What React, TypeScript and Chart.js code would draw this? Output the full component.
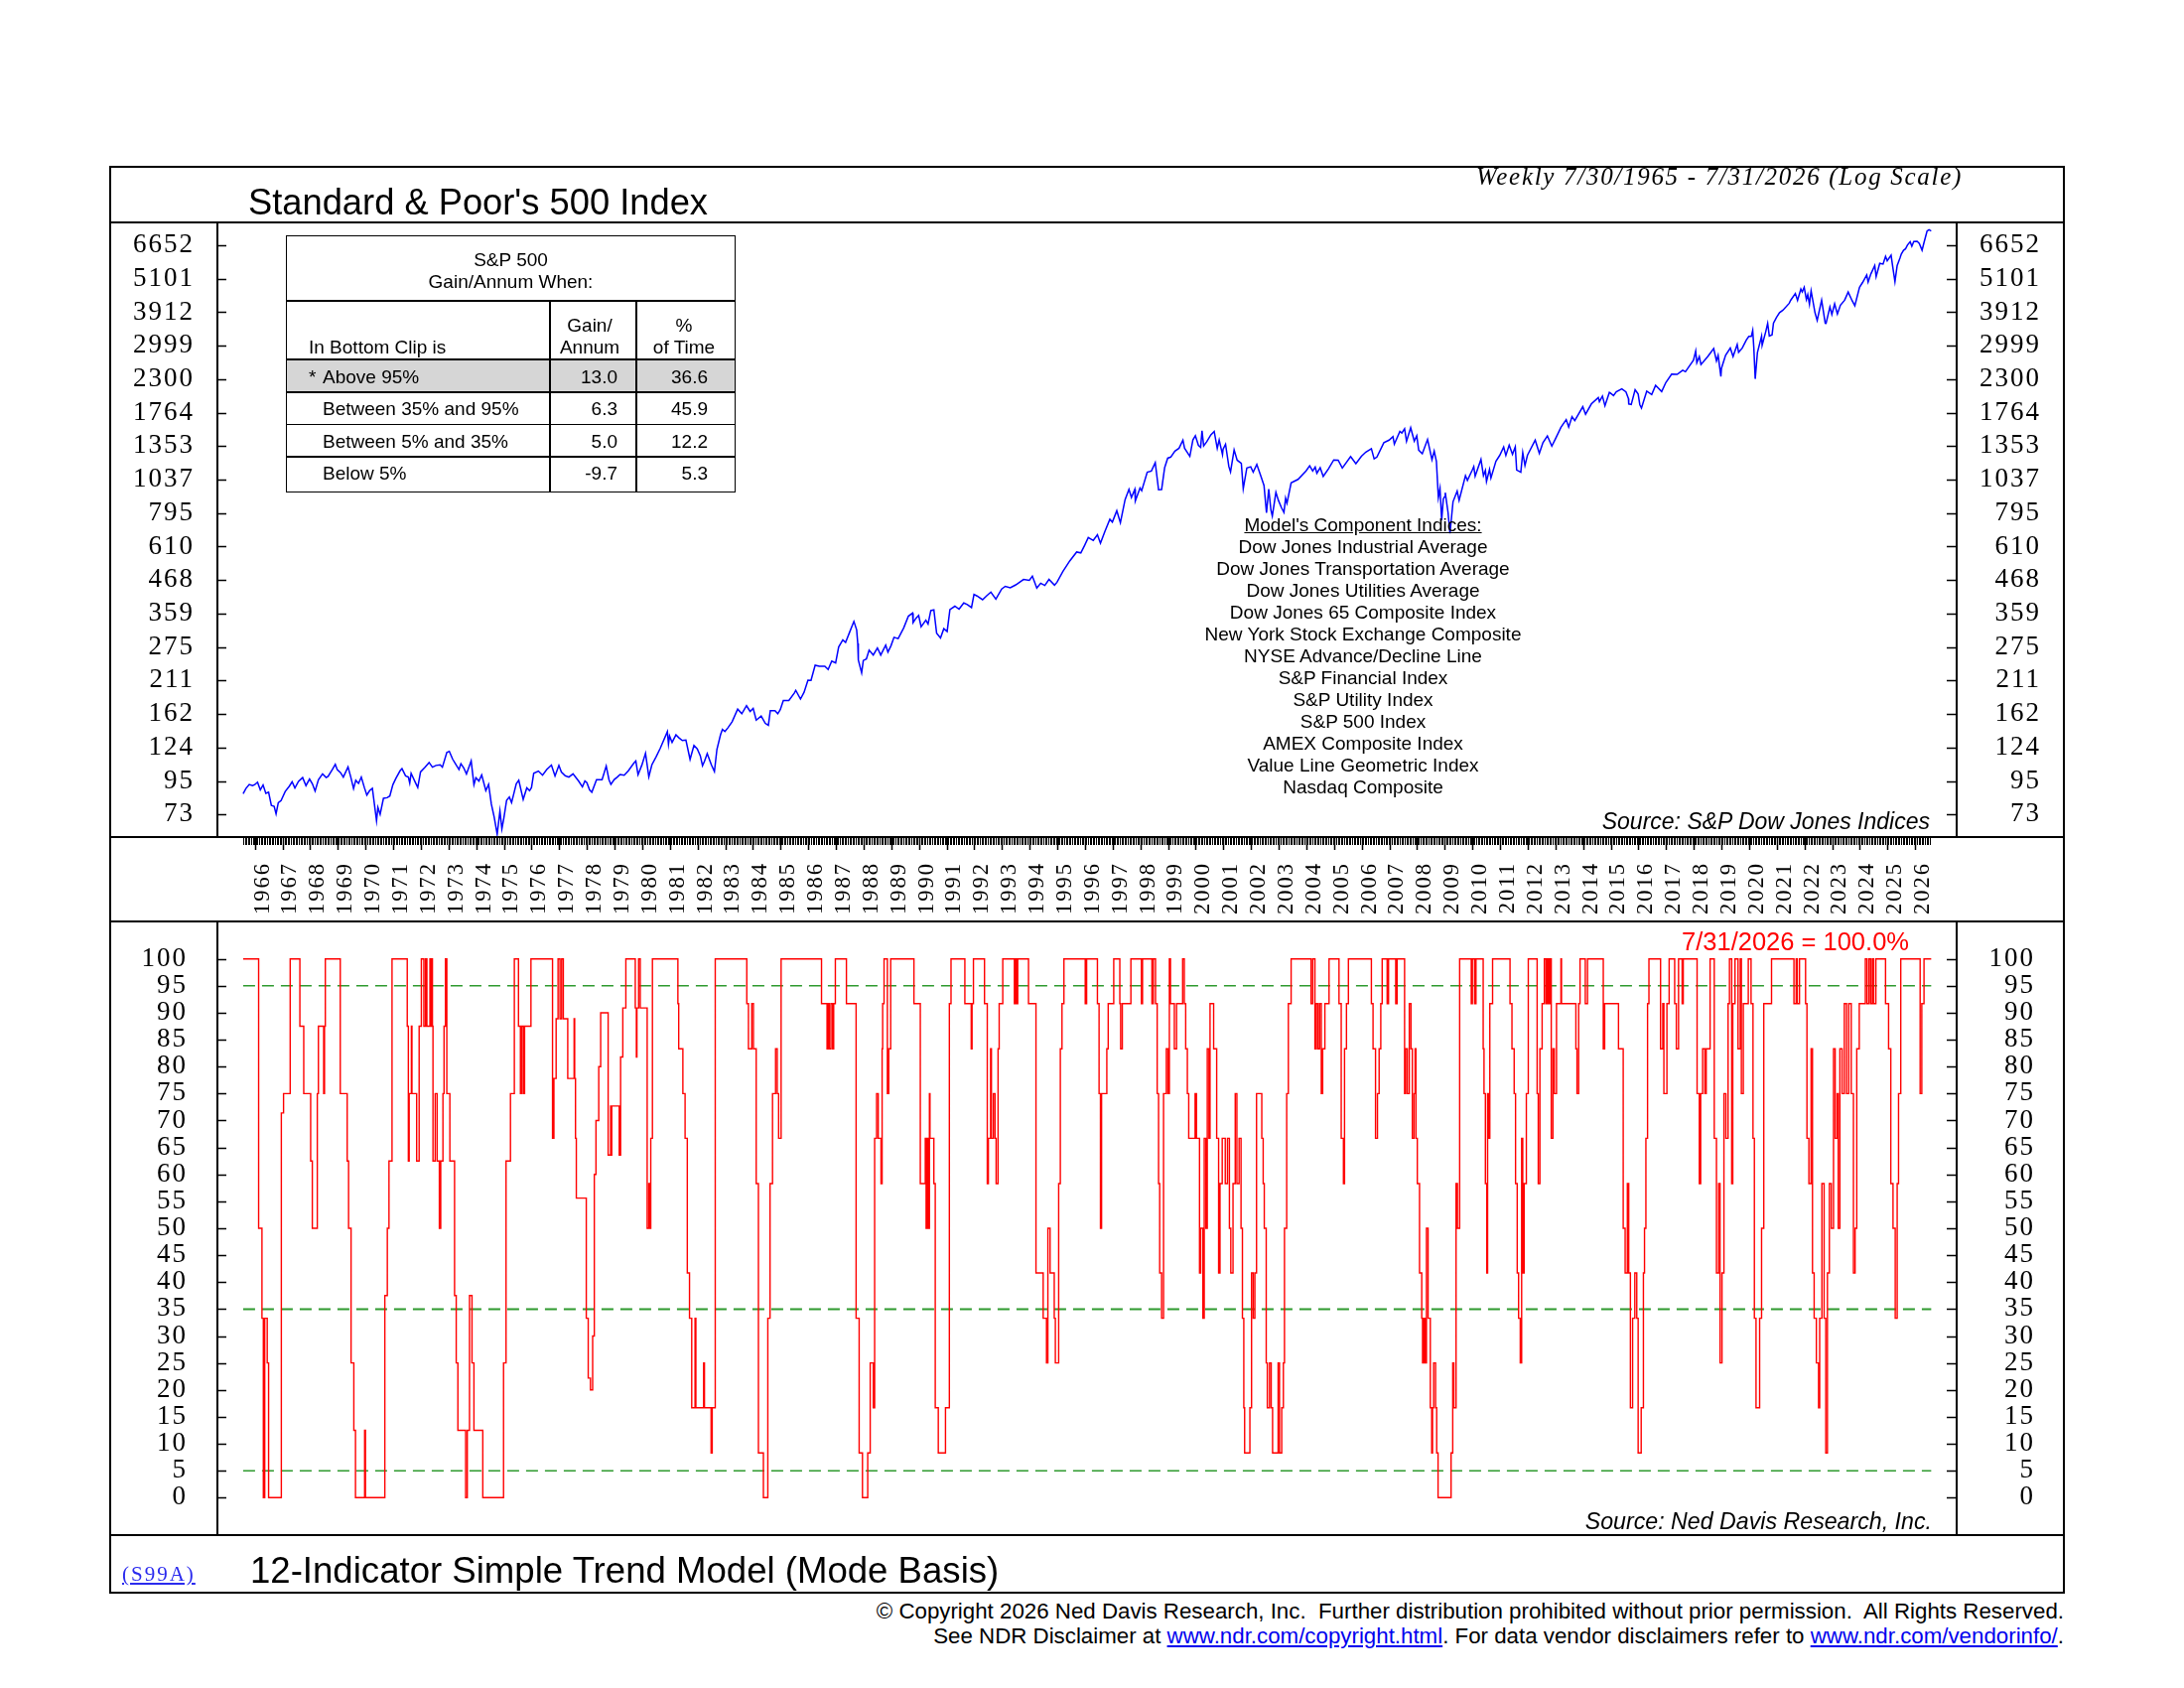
import React, { useEffect, useRef } from 'react';
import { Chart, registerables } from 'chart.js';

Chart.register(...registerables);

// S&P 500 weekly close: [decimal year, index level]
const spxPoints: [number, number][] = [
  [1965.58, 85.9], [1965.68, 89.5], [1965.8, 92.4], [1965.92, 91.6], [1966.0, 92.3],
  [1966.1, 94.1], [1966.2, 88.5], [1966.3, 92.0], [1966.4, 86.1], [1966.5, 87.0], [1966.6, 78.2], [1966.7, 77.7], [1966.77, 73.2], [1966.85, 80.0], [1966.95, 81.3],
  [1967.1, 87.4], [1967.25, 91.2], [1967.35, 94.4], [1967.45, 89.9], [1967.58, 94.7], [1967.73, 97.6], [1967.85, 91.6], [1967.98, 96.5],
  [1968.08, 93.0], [1968.18, 87.7], [1968.3, 96.0], [1968.45, 100.5], [1968.58, 97.7], [1968.65, 98.5], [1968.8, 103.9], [1968.91, 108.4], [1968.98, 103.9],
  [1969.1, 101.5], [1969.2, 98.0], [1969.37, 106.2], [1969.47, 98.0], [1969.57, 89.5], [1969.65, 95.5], [1969.75, 93.2], [1969.85, 98.0], [1969.96, 90.2],
  [1970.05, 85.0], [1970.15, 88.0], [1970.25, 89.6], [1970.4, 69.3], [1970.45, 77.0], [1970.53, 72.9], [1970.65, 82.8], [1970.78, 83.2], [1970.88, 84.3], [1970.99, 92.2],
  [1971.1, 97.0], [1971.25, 103.0], [1971.32, 104.8], [1971.45, 99.0], [1971.55, 98.0], [1971.6, 93.5], [1971.65, 101.0], [1971.8, 94.0], [1971.89, 90.2], [1971.99, 102.1],
  [1972.15, 106.0], [1972.3, 110.0], [1972.42, 106.0], [1972.55, 107.5], [1972.7, 108.0], [1972.78, 106.0], [1972.94, 119.1], [1973.03, 120.2],
  [1973.15, 113.0], [1973.25, 109.0], [1973.38, 104.0], [1973.45, 109.0], [1973.55, 105.5], [1973.65, 100.5], [1973.82, 111.4], [1973.92, 92.2], [1973.99, 97.5],
  [1974.1, 95.0], [1974.2, 99.7], [1974.35, 88.0], [1974.45, 92.5], [1974.55, 79.0], [1974.65, 71.5], [1974.76, 62.3], [1974.86, 75.0], [1974.93, 65.0], [1975.0, 70.7],
  [1975.1, 81.5], [1975.2, 83.6], [1975.28, 80.0], [1975.45, 93.0], [1975.54, 95.6], [1975.7, 82.1], [1975.83, 90.0], [1975.93, 88.0], [1976.0, 90.2],
  [1976.08, 101.0], [1976.25, 102.8], [1976.4, 99.5], [1976.55, 104.0], [1976.72, 107.8], [1976.85, 98.8], [1976.99, 107.5],
  [1977.08, 102.0], [1977.22, 99.0], [1977.35, 98.0], [1977.5, 100.5], [1977.7, 95.0], [1977.84, 90.7], [1977.93, 95.0], [1978.0, 93.8],
  [1978.1, 88.5], [1978.18, 86.9], [1978.35, 96.0], [1978.55, 96.0], [1978.7, 107.0], [1978.8, 96.0], [1978.87, 92.5], [1978.99, 96.1],
  [1979.1, 98.0], [1979.2, 100.0], [1979.35, 99.5], [1979.5, 103.0], [1979.7, 109.5], [1979.77, 111.3], [1979.85, 99.9], [1979.99, 107.9],
  [1980.12, 118.4], [1980.24, 98.2], [1980.35, 108.0], [1980.5, 115.0], [1980.65, 123.0], [1980.91, 140.5], [1980.95, 127.4], [1980.99, 135.8],
  [1981.08, 129.0], [1981.22, 137.0], [1981.32, 134.0], [1981.45, 131.0], [1981.58, 131.5], [1981.73, 112.8], [1981.87, 126.0], [1981.99, 122.5],
  [1982.1, 116.0], [1982.18, 107.3], [1982.25, 111.0], [1982.35, 118.0], [1982.5, 108.0], [1982.61, 102.4], [1982.7, 122.0], [1982.83, 137.0], [1982.9, 143.0], [1982.99, 140.6],
  [1983.1, 145.0], [1983.25, 152.0], [1983.45, 168.0], [1983.6, 162.0], [1983.77, 172.6], [1983.9, 165.0], [1984.01, 169.0],
  [1984.12, 154.0], [1984.3, 159.0], [1984.45, 150.0], [1984.56, 147.8], [1984.63, 166.0], [1984.8, 166.0], [1984.9, 162.0], [1984.99, 167.2],
  [1985.1, 180.0], [1985.3, 180.0], [1985.5, 191.0], [1985.55, 195.0], [1985.72, 182.0], [1985.85, 192.0], [1985.99, 211.3],
  [1986.1, 211.0], [1986.25, 238.0], [1986.4, 236.0], [1986.55, 236.0], [1986.6, 236.0], [1986.72, 230.0], [1986.85, 246.0], [1986.99, 242.2],
  [1987.1, 275.0], [1987.25, 291.0], [1987.35, 285.0], [1987.5, 310.0], [1987.65, 336.8], [1987.75, 315.0], [1987.79, 282.7], [1987.81, 248.0], [1987.93, 223.9], [1987.99, 247.1],
  [1988.1, 250.0], [1988.2, 268.0], [1988.35, 258.0], [1988.5, 273.0], [1988.62, 258.0], [1988.8, 279.0], [1988.88, 264.0], [1988.99, 277.7],
  [1989.1, 297.0], [1989.25, 294.0], [1989.45, 320.0], [1989.62, 351.0], [1989.77, 359.8], [1989.79, 333.6], [1989.9, 346.0], [1989.99, 353.4],
  [1990.08, 322.9], [1990.25, 340.0], [1990.33, 330.0], [1990.43, 367.0], [1990.54, 368.9], [1990.64, 307.0], [1990.78, 295.5], [1990.9, 318.0], [1991.02, 311.0],
  [1991.12, 370.0], [1991.3, 380.0], [1991.45, 371.0], [1991.62, 390.0], [1991.75, 385.0], [1991.9, 376.0], [1991.99, 417.1],
  [1992.1, 412.0], [1992.3, 400.0], [1992.45, 413.0], [1992.6, 425.0], [1992.78, 402.0], [1992.99, 435.7],
  [1993.12, 445.0], [1993.3, 440.0], [1993.5, 450.0], [1993.78, 470.0], [1993.99, 466.5],
  [1994.1, 482.0], [1994.26, 438.9], [1994.4, 456.0], [1994.55, 448.0], [1994.7, 470.0], [1994.9, 449.0], [1994.99, 459.3],
  [1995.2, 500.0], [1995.45, 544.0], [1995.7, 584.0], [1995.85, 580.0], [1995.99, 615.9],
  [1996.12, 655.0], [1996.3, 640.0], [1996.45, 670.0], [1996.56, 626.0], [1996.72, 687.0], [1996.9, 757.0], [1996.99, 740.7],
  [1997.15, 810.0], [1997.28, 737.0], [1997.45, 885.0], [1997.59, 960.0], [1997.68, 900.0], [1997.8, 960.0], [1997.82, 876.0], [1997.99, 970.4],
  [1998.05, 950.0], [1998.25, 1100.0], [1998.4, 1110.0], [1998.54, 1186.0], [1998.66, 957.0], [1998.77, 959.0], [1998.88, 1140.0], [1998.99, 1229.2],
  [1999.1, 1240.0], [1999.25, 1300.0], [1999.4, 1330.0], [1999.54, 1418.0], [1999.6, 1330.0], [1999.79, 1247.0], [1999.9, 1420.0], [1999.99, 1469.3],
  [2000.1, 1360.0], [2000.18, 1340.0], [2000.23, 1527.0], [2000.29, 1356.0], [2000.4, 1400.0], [2000.55, 1480.0], [2000.67, 1520.0], [2000.78, 1329.0], [2000.85, 1420.0], [2000.97, 1264.0], [2000.99, 1320.3],
  [2001.08, 1373.0], [2001.2, 1150.0], [2001.26, 1103.0], [2001.39, 1312.0], [2001.5, 1210.0], [2001.65, 1180.0], [2001.72, 965.0], [2001.85, 1138.0], [2001.99, 1148.1],
  [2002.08, 1100.0], [2002.21, 1170.0], [2002.35, 1070.0], [2002.47, 990.0], [2002.56, 797.0], [2002.64, 962.0], [2002.72, 815.0], [2002.77, 776.8], [2002.9, 938.0], [2002.99, 879.8],
  [2003.1, 830.0], [2003.19, 800.0], [2003.25, 895.0], [2003.3, 860.0], [2003.45, 1011.0], [2003.7, 1039.0], [2003.99, 1111.9],
  [2004.12, 1157.0], [2004.23, 1110.0], [2004.32, 1145.0], [2004.38, 1090.0], [2004.5, 1140.0], [2004.61, 1064.0], [2004.8, 1130.0], [2004.99, 1211.9],
  [2005.15, 1210.0], [2005.3, 1137.0], [2005.6, 1245.0], [2005.79, 1177.0], [2005.99, 1248.3],
  [2006.15, 1290.0], [2006.35, 1326.0], [2006.45, 1223.0], [2006.55, 1240.0], [2006.8, 1390.0], [2006.99, 1418.3],
  [2007.13, 1459.0], [2007.18, 1374.0], [2007.38, 1520.0], [2007.45, 1500.0], [2007.55, 1553.0], [2007.62, 1406.0], [2007.77, 1565.0], [2007.9, 1407.0], [2007.99, 1468.4],
  [2008.06, 1310.0], [2008.19, 1273.0], [2008.38, 1426.0], [2008.54, 1214.0], [2008.62, 1300.0], [2008.7, 1200.0], [2008.77, 899.0], [2008.83, 968.0], [2008.89, 752.0], [2008.95, 890.0], [2008.99, 903.3],
  [2009.02, 935.0], [2009.12, 800.0], [2009.19, 676.5], [2009.3, 870.0], [2009.45, 946.0], [2009.52, 880.0], [2009.75, 1070.0], [2009.82, 1030.0], [2009.99, 1115.1],
  [2010.05, 1150.0], [2010.1, 1066.0], [2010.31, 1217.0], [2010.4, 1070.0], [2010.47, 1115.0], [2010.51, 1022.0], [2010.62, 1125.0], [2010.67, 1050.0], [2010.85, 1200.0], [2010.99, 1257.6],
  [2011.13, 1343.0], [2011.21, 1256.0], [2011.33, 1363.0], [2011.45, 1268.0], [2011.55, 1345.0], [2011.6, 1119.0], [2011.75, 1099.0], [2011.82, 1285.0], [2011.9, 1159.0], [2011.99, 1257.6],
  [2012.27, 1419.0], [2012.42, 1278.0], [2012.55, 1390.0], [2012.71, 1466.0], [2012.87, 1353.0], [2012.99, 1426.2],
  [2013.2, 1569.0], [2013.39, 1669.0], [2013.48, 1573.0], [2013.6, 1709.0], [2013.7, 1655.0], [2013.99, 1848.4],
  [2014.09, 1741.0], [2014.3, 1890.0], [2014.55, 1988.0], [2014.59, 1925.0], [2014.7, 2011.0], [2014.79, 1862.0], [2014.95, 2070.0], [2014.99, 2058.9],
  [2015.1, 2020.0], [2015.2, 2080.0], [2015.4, 2130.0], [2015.55, 2080.0], [2015.64, 1971.0], [2015.65, 1890.0], [2015.74, 1881.0], [2015.88, 2116.0], [2015.99, 2043.9],
  [2016.05, 1880.0], [2016.11, 1829.0], [2016.3, 2091.0], [2016.48, 2037.0], [2016.62, 2190.0], [2016.84, 2085.0], [2016.99, 2238.8],
  [2017.2, 2395.0], [2017.4, 2390.0], [2017.6, 2470.0], [2017.7, 2440.0], [2017.99, 2673.6],
  [2018.07, 2873.0], [2018.11, 2620.0], [2018.2, 2750.0], [2018.26, 2582.0], [2018.5, 2750.0], [2018.72, 2931.0], [2018.82, 2658.0], [2018.88, 2780.0], [2018.98, 2351.0], [2019.0, 2507.0],
  [2019.15, 2780.0], [2019.32, 2945.0], [2019.42, 2752.0], [2019.57, 3026.0], [2019.62, 2847.0], [2019.75, 2940.0], [2019.9, 3140.0], [2019.99, 3230.8],
  [2020.08, 3230.0], [2020.13, 3386.0], [2020.17, 2954.0], [2020.22, 2305.0], [2020.3, 2840.0], [2020.45, 3232.0], [2020.47, 3009.0], [2020.6, 3351.0], [2020.67, 3580.0], [2020.73, 3237.0], [2020.83, 3270.0], [2020.88, 3585.0], [2020.99, 3756.1],
  [2021.1, 3900.0], [2021.22, 3974.0], [2021.45, 4200.0], [2021.5, 4298.0], [2021.67, 4537.0], [2021.75, 4300.0], [2021.87, 4700.0], [2021.92, 4594.0], [2021.99, 4766.2],
  [2022.07, 4326.0], [2022.12, 4500.0], [2022.18, 4170.0], [2022.24, 4631.0], [2022.38, 3901.0], [2022.46, 3667.0], [2022.62, 4305.0], [2022.75, 3586.0], [2022.78, 3583.0], [2022.92, 4080.0], [2022.99, 3839.5],
  [2023.09, 4179.0], [2023.19, 3855.0], [2023.3, 4137.0], [2023.45, 4300.0], [2023.58, 4589.0], [2023.72, 4290.0], [2023.82, 4117.0], [2023.99, 4769.8],
  [2024.1, 4950.0], [2024.25, 5254.0], [2024.3, 4967.0], [2024.4, 5300.0], [2024.54, 5667.0], [2024.59, 5186.0], [2024.72, 5762.0], [2024.84, 5728.0], [2024.93, 6090.0], [2024.99, 5881.6],
  [2025.13, 6144.0], [2025.2, 5521.0], [2025.27, 4982.0], [2025.35, 5660.0], [2025.45, 6000.0], [2025.5, 6205.0], [2025.58, 6389.0], [2025.65, 6460.0], [2025.72, 6660.0], [2025.82, 6840.0],
  [2025.88, 6600.0], [2025.95, 6850.0], [2026.07, 6865.0], [2026.15, 6750.0], [2026.25, 6394.0], [2026.32, 6800.0], [2026.43, 7442.0], [2026.5, 7522.0], [2026.58, 7450.0],
];

// 12-Indicator Simple Trend Model (%), each point is a new reading: [decimal year, percent]
const trendPoints: [number, number][] = [
  [1965.58, 100],
  [1966.14, 50], [1966.26, 33.3], [1966.31, 0], [1966.36, 33.3], [1966.45, 25], [1966.5, 0], [1966.96, 71.4], [1967.04, 75], [1967.28, 100], [1967.63, 87.5], [1967.77, 75],
  [1968.02, 62.5], [1968.08, 50], [1968.26, 75], [1968.3, 87.5], [1968.49, 75], [1968.52, 87.5], [1968.55, 100],
  [1969.09, 75], [1969.34, 62.5], [1969.39, 50], [1969.48, 25], [1969.58, 12.5], [1969.64, 0], [1969.97, 12.5], [1970.0, 0],
  [1970.7, 37.5], [1970.79, 50], [1970.85, 62.5], [1970.96, 100],
  [1971.51, 87.5], [1971.55, 62.5], [1971.58, 75], [1971.66, 87.5], [1971.68, 75], [1971.85, 62.5], [1971.94, 87.5],
  [1972.02, 100], [1972.11, 87.5], [1972.17, 100], [1972.22, 87.5], [1972.33, 100], [1972.36, 87.5], [1972.39, 100], [1972.42, 87.5], [1972.44, 62.5], [1972.52, 75], [1972.59, 62.5], [1972.67, 50], [1972.72, 62.5], [1972.8, 75], [1972.84, 87.5], [1972.89, 100], [1972.94, 75],
  [1973.05, 62.5], [1973.22, 37.5], [1973.28, 25], [1973.34, 12.5], [1973.62, 0], [1973.68, 12.5], [1973.76, 37.5], [1973.85, 25], [1973.92, 12.5],
  [1974.24, 0], [1974.99, 25], [1975.08, 62.5], [1975.24, 75], [1975.38, 100], [1975.53, 87.5], [1975.6, 75], [1975.64, 87.5], [1975.7, 75], [1975.75, 87.5], [1975.98, 100],
  [1976.76, 66.7], [1976.81, 77.8], [1976.89, 88.9], [1976.96, 100], [1977.03, 88.9], [1977.09, 100], [1977.15, 88.9], [1977.31, 77.8], [1977.54, 88.9], [1977.56, 77.8], [1977.59, 66.7], [1977.62, 55.6], [1977.98, 33.3],
  [1978.05, 22.2], [1978.13, 20], [1978.21, 30], [1978.27, 60], [1978.33, 70], [1978.43, 80], [1978.5, 90], [1978.77, 63.6], [1978.86, 72.7], [1978.88, 63.6], [1978.9, 72.7],
  [1979.17, 63.6], [1979.22, 81.8], [1979.3, 90.9], [1979.41, 100], [1979.75, 90.9], [1979.79, 81.8], [1979.81, 90.9], [1979.87, 100], [1979.93, 90.9],
  [1980.18, 50], [1980.24, 58.3], [1980.26, 50], [1980.31, 66.7], [1980.37, 100],
  [1981.29, 91.7], [1981.32, 83.3], [1981.47, 75], [1981.55, 66.7], [1981.63, 41.7], [1981.71, 33.3], [1981.79, 16.7], [1981.91, 33.3], [1981.94, 16.7],
  [1982.22, 25], [1982.25, 16.7], [1982.49, 8.3], [1982.53, 16.7], [1982.64, 100],
  [1983.78, 91.7], [1983.84, 83.3], [1983.96, 91.7], [1984.02, 83.3], [1984.12, 58.3], [1984.2, 8.3], [1984.38, 0], [1984.54, 33.3], [1984.62, 58.3], [1984.71, 75], [1984.82, 83.3], [1984.88, 75], [1984.93, 66.7],
  [1985.02, 100], [1986.48, 91.7], [1986.68, 83.3], [1986.72, 91.7], [1986.76, 83.3], [1986.82, 91.7], [1986.88, 83.3], [1986.92, 91.7], [1986.98, 100],
  [1987.38, 91.7], [1987.73, 33.3], [1987.84, 8.3], [1987.96, 0], [1988.15, 8.3], [1988.24, 25], [1988.35, 16.7], [1988.4, 66.7], [1988.47, 75], [1988.53, 66.7], [1988.63, 58.3], [1988.67, 83.3], [1988.69, 91.7], [1988.74, 100], [1988.86, 75], [1988.91, 83.3], [1988.98, 100],
  [1989.82, 91.7], [1990.05, 58.3], [1990.23, 66.7], [1990.26, 50], [1990.3, 66.7], [1990.34, 50], [1990.38, 75], [1990.4, 66.7], [1990.54, 58.3], [1990.59, 16.7], [1990.7, 8.3], [1990.96, 16.7],
  [1991.1, 91.7], [1991.16, 100], [1991.66, 91.7], [1991.89, 83.3], [1991.92, 91.7], [1991.97, 100],
  [1992.37, 91.7], [1992.47, 58.3], [1992.51, 66.7], [1992.59, 83.3], [1992.62, 66.7], [1992.69, 75], [1992.75, 66.7], [1992.79, 58.3], [1992.86, 83.3], [1992.9, 91.7],
  [1993.03, 100], [1993.45, 91.7], [1993.49, 100], [1993.54, 91.7], [1993.57, 100], [1993.96, 91.7],
  [1994.23, 41.7], [1994.49, 33.3], [1994.61, 25], [1994.66, 50], [1994.74, 41.7], [1994.89, 33.3], [1994.93, 25],
  [1995.05, 58.3], [1995.11, 83.3], [1995.17, 91.7], [1995.24, 100],
  [1996.01, 91.7], [1996.06, 100], [1996.45, 91.7], [1996.51, 75], [1996.56, 50], [1996.6, 75], [1996.79, 83.3], [1996.84, 91.7],
  [1997.04, 100], [1997.26, 91.7], [1997.29, 83.3], [1997.35, 91.7], [1997.66, 100],
  [1998.04, 91.7], [1998.08, 100], [1998.42, 91.7], [1998.47, 100], [1998.55, 91.7], [1998.61, 75], [1998.66, 58.3], [1998.7, 41.7], [1998.77, 33.3], [1998.84, 75], [1998.94, 83.3],
  [1999.0, 75], [1999.05, 100], [1999.09, 91.7], [1999.23, 83.3], [1999.31, 91.7], [1999.53, 100], [1999.59, 91.7], [1999.64, 83.3], [1999.7, 75], [1999.75, 66.7], [1999.98, 75],
  [2000.03, 66.7], [2000.14, 41.7], [2000.18, 50], [2000.26, 33.3], [2000.31, 66.7], [2000.37, 50], [2000.42, 83.3], [2000.48, 66.7], [2000.52, 91.7], [2000.65, 83.3], [2000.76, 66.7], [2000.83, 41.7], [2000.88, 58.3], [2000.96, 66.7],
  [2001.07, 58.3], [2001.15, 66.7], [2001.22, 50], [2001.27, 41.7], [2001.35, 58.3], [2001.43, 75], [2001.49, 58.3], [2001.57, 66.7], [2001.64, 50], [2001.69, 33.3], [2001.74, 16.7], [2001.77, 8.3], [2001.96, 16.7],
  [2002.02, 41.7], [2002.08, 33.3], [2002.14, 41.7], [2002.2, 75], [2002.39, 66.7], [2002.44, 58.3], [2002.48, 50], [2002.55, 25], [2002.59, 16.7], [2002.67, 25], [2002.73, 16.7], [2002.78, 8.3], [2002.98, 25],
  [2003.03, 8.3], [2003.11, 16.7], [2003.17, 25], [2003.21, 50], [2003.29, 75], [2003.35, 91.7], [2003.45, 100],
  [2004.17, 91.7], [2004.23, 100], [2004.31, 83.3], [2004.36, 91.7], [2004.42, 83.3], [2004.48, 91.7], [2004.54, 75], [2004.59, 83.3], [2004.67, 91.7], [2004.82, 100],
  [2005.18, 91.7], [2005.26, 66.7], [2005.34, 58.3], [2005.38, 83.3], [2005.45, 91.7], [2005.52, 100],
  [2006.35, 91.7], [2006.41, 83.3], [2006.5, 66.7], [2006.57, 75], [2006.63, 83.3], [2006.69, 91.7], [2006.74, 100], [2006.92, 91.7], [2006.97, 100],
  [2007.23, 91.7], [2007.28, 100], [2007.55, 75], [2007.59, 83.3], [2007.65, 75], [2007.72, 91.7], [2007.78, 83.3], [2007.83, 66.7], [2007.89, 75], [2007.93, 83.3], [2007.96, 66.7],
  [2008.01, 58.3], [2008.09, 41.7], [2008.17, 33.3], [2008.2, 25], [2008.25, 33.3], [2008.29, 25], [2008.34, 50], [2008.4, 33.3], [2008.48, 16.7], [2008.53, 8.3], [2008.56, 16.7], [2008.6, 25], [2008.67, 16.7], [2008.71, 8.3], [2008.76, 0],
  [2009.23, 8.3], [2009.29, 25], [2009.33, 16.7], [2009.41, 58.3], [2009.46, 50], [2009.54, 100], [2009.96, 91.7],
  [2010.0, 100], [2010.08, 91.7], [2010.13, 100], [2010.39, 83.3], [2010.42, 75], [2010.47, 58.3], [2010.52, 41.7], [2010.55, 75], [2010.58, 66.7], [2010.63, 91.7], [2010.73, 100],
  [2011.36, 91.7], [2011.43, 83.3], [2011.51, 75], [2011.56, 58.3], [2011.62, 41.7], [2011.67, 33.3], [2011.73, 25], [2011.78, 66.7], [2011.82, 41.7], [2011.87, 58.3], [2011.95, 75],
  [2012.02, 100], [2012.34, 75], [2012.38, 58.3], [2012.44, 83.3], [2012.52, 91.7], [2012.6, 100], [2012.66, 91.7], [2012.71, 100], [2012.76, 91.7], [2012.8, 100], [2012.85, 66.7], [2012.91, 83.3], [2012.96, 75],
  [2013.04, 91.7], [2013.2, 100], [2013.22, 91.7], [2013.74, 83.3], [2013.78, 75], [2013.84, 91.7], [2013.89, 100],
  [2014.08, 91.7], [2014.16, 100], [2014.73, 83.3], [2014.78, 91.7],
  [2015.28, 83.3], [2015.45, 50], [2015.52, 41.7], [2015.6, 58.3], [2015.65, 41.7], [2015.71, 16.7], [2015.79, 33.3], [2015.87, 41.7], [2015.94, 33.3], [2015.99, 8.3],
  [2016.1, 16.7], [2016.18, 41.7], [2016.22, 50], [2016.27, 66.7], [2016.33, 91.7], [2016.38, 100], [2016.8, 83.3], [2016.88, 91.7], [2016.92, 75],
  [2017.03, 91.7], [2017.11, 100], [2017.31, 91.7], [2017.37, 83.3], [2017.45, 100], [2017.58, 91.7], [2017.62, 100],
  [2018.12, 75], [2018.2, 58.3], [2018.25, 75], [2018.32, 83.3], [2018.4, 75], [2018.45, 83.3], [2018.59, 100], [2018.74, 66.7], [2018.82, 41.7], [2018.9, 58.3], [2018.95, 25],
  [2019.02, 41.7], [2019.09, 75], [2019.16, 66.7], [2019.24, 91.7], [2019.29, 100], [2019.37, 58.3], [2019.41, 91.7], [2019.49, 100], [2019.6, 83.3], [2019.68, 100], [2019.72, 75], [2019.79, 91.7], [2019.97, 100],
  [2020.07, 91.7], [2020.14, 66.7], [2020.19, 33.3], [2020.25, 16.7], [2020.38, 33.3], [2020.45, 50], [2020.53, 91.7], [2020.81, 100],
  [2021.62, 91.7], [2021.7, 100], [2021.74, 91.7], [2021.82, 100],
  [2022.04, 91.7], [2022.09, 66.7], [2022.16, 58.3], [2022.24, 83.3], [2022.29, 41.7], [2022.35, 33.3], [2022.43, 25], [2022.51, 16.7], [2022.55, 33.3], [2022.63, 58.3], [2022.71, 33.3], [2022.77, 8.3], [2022.83, 41.7], [2022.9, 58.3], [2022.97, 50],
  [2023.05, 83.3], [2023.11, 66.7], [2023.18, 75], [2023.22, 50], [2023.28, 83.3], [2023.36, 75], [2023.44, 91.7], [2023.52, 75], [2023.6, 91.7], [2023.69, 75], [2023.77, 41.7], [2023.83, 50], [2023.89, 83.3], [2023.98, 91.7],
  [2024.2, 100], [2024.26, 91.7], [2024.33, 100], [2024.39, 91.7], [2024.45, 100], [2024.5, 91.7], [2024.58, 100], [2024.93, 91.7],
  [2025.04, 83.3], [2025.12, 58.3], [2025.2, 50], [2025.28, 33.3], [2025.35, 58.3], [2025.4, 75], [2025.48, 100],
  [2026.18, 75], [2026.24, 91.7], [2026.32, 100], [2026.58, 100],
];

const priceTicks = [6652, 5101, 3912, 2999, 2300, 1764, 1353, 1037, 795, 610, 468, 359, 275, 211, 162, 124, 95, 73];
const pctTicks = [0, 5, 10, 15, 20, 25, 30, 35, 40, 45, 50, 55, 60, 65, 70, 75, 80, 85, 90, 95, 100];
const yearLabels = [
  1966, 1967, 1968, 1969, 1970, 1971, 1972, 1973, 1974, 1975, 1976, 1977, 1978, 1979, 1980, 1981, 1982, 1983, 1984, 1985,
  1986, 1987, 1988, 1989, 1990, 1991, 1992, 1993, 1994, 1995, 1996, 1997, 1998, 1999, 2000, 2001, 2002, 2003, 2004, 2005,
  2006, 2007, 2008, 2009, 2010, 2011, 2012, 2013, 2014, 2015, 2016, 2017, 2018, 2019, 2020, 2021, 2022, 2023, 2024, 2025, 2026,
];
const clipLevels = [95, 35, 5];

const tableRows = [
  { label: 'Above 95%', star: true, gain: '13.0', time: '36.6' },
  { label: 'Between 35% and 95%', star: false, gain: '6.3', time: '45.9' },
  { label: 'Between 5% and 35%', star: false, gain: '5.0', time: '12.2' },
  { label: 'Below 5%', star: false, gain: '-9.7', time: '5.3' },
];

const componentIndices = [
  'Dow Jones Industrial Average',
  'Dow Jones Transportation Average',
  'Dow Jones Utilities Average',
  'Dow Jones 65 Composite Index',
  'New York Stock Exchange Composite',
  'NYSE Advance/Decline Line',
  'S&P Financial Index',
  'S&P Utility Index',
  'S&P 500 Index',
  'AMEX Composite Index',
  'Value Line Geometric Index',
  'Nasdaq Composite',
];

const SERIF = "'Liberation Serif', 'Times New Roman', serif";
const SANS = "'Liberation Sans', Arial, Helvetica, sans-serif";

// page geometry (px)
const FRAME_L = 111;
const FRAME_R = 2079;
const FRAME_T = 168;
const FRAME_B = 1604;
const TITLE_SEP = 224;
const TOP_BOTTOM = 843;
const BAND_BOTTOM = 928;
const LOW_BOTTOM = 1546;
const AXIS_L = 219;
const AXIS_R = 1971;
const CANVAS_W = FRAME_R - FRAME_L;

const X_MIN = 1964.65;
const X_MAX = 2027.5;
const DATA_START = spxPoints[0][0];
const DATA_END = spxPoints[spxPoints.length - 1][0];

const spacedText = {
  id: 'spacedText',
  beforeDraw(chart: any) {
    chart.ctx.letterSpacing = '2px';
  },
  afterDraw(chart: any) {
    chart.ctx.letterSpacing = '0px';
  },
};

// keep the plot area exactly where the frame puts it
const noScalePadding = (s: any) => {
  s.paddingTop = 0;
  s.paddingBottom = 0;
  s.paddingLeft = 0;
  s.paddingRight = 0;
};

// small tick marks inside the plot, and the month/year ticks below the price clip
const makeTickMarks = (values: number[], withYears: boolean) => ({
  id: 'tickMarks',
  afterDraw(chart: any) {
    const { ctx, chartArea: a, scales } = chart;
    ctx.save();
    ctx.strokeStyle = '#000';
    ctx.lineWidth = 1.5;
    ctx.beginPath();
    values.forEach((v) => {
      const py = Math.round(scales.y.getPixelForValue(v)) + 0.5;
      ctx.moveTo(a.left, py);
      ctx.lineTo(a.left + 9, py);
      ctx.moveTo(a.right - 10, py);
      ctx.lineTo(a.right, py);
    });
    ctx.stroke();
    if (withYears) {
      ctx.lineWidth = 1;
      ctx.beginPath();
      for (let t = DATA_START; t <= DATA_END + 0.001; t += 21 / 365.25) {
        const px = Math.round(scales.x.getPixelForValue(t)) + 0.5;
        ctx.moveTo(px, a.bottom);
        ctx.lineTo(px, a.bottom + 8);
      }
      ctx.stroke();
      ctx.lineWidth = 1.5;
      ctx.beginPath();
      yearLabels.forEach((yr) => {
        const px = Math.round(scales.x.getPixelForValue(yr)) + 0.5;
        ctx.moveTo(px, a.bottom);
        ctx.lineTo(px, a.bottom + 13);
      });
      ctx.stroke();
    }
    ctx.restore();
  },
});

const tickFont = { family: SERIF, size: 27 };

function PriceChart() {
  const ref = useRef<HTMLCanvasElement | null>(null);
  useEffect(() => {
    if (!ref.current) return;
    const chart = new Chart(ref.current, {
      type: 'line',
      data: {
        datasets: [
          {
            data: spxPoints.map(([x, y]) => ({ x, y })),
            borderColor: '#0000ff',
            borderWidth: 1.5,
            pointRadius: 0,
            tension: 0,
          },
        ],
      },
      options: {
        animation: false,
        responsive: false,
        devicePixelRatio: 1,
        events: [],
        layout: { padding: { left: 0, right: 23, top: 0, bottom: 0 }, autoPadding: false },
        plugins: { legend: { display: false }, tooltip: { enabled: false } },
        scales: {
          x: {
            type: 'linear',
            position: 'bottom',
            min: X_MIN,
            max: X_MAX,
            grid: { display: false, drawTicks: false },
            border: { display: false },
            ticks: {
              autoSkip: false,
              minRotation: 90,
              maxRotation: 90,
              padding: 25,
              labelOffset: 8,
              color: '#000',
              font: { family: SERIF, size: 22.5 },
              callback: (v: any) => String(v),
            },
            afterBuildTicks: (s: any) => {
              s.ticks = yearLabels.map((v) => ({ value: v }));
            },
            afterFit: (s: any) => {
              s.height = BAND_BOTTOM - TOP_BOTTOM;
              noScalePadding(s);
            },
          },
          y: {
            type: 'logarithmic',
            position: 'left',
            min: 60.91,
            max: 7972.8,
            grid: { display: false, drawTicks: false },
            border: { display: false },
            ticks: { autoSkip: false, padding: 23, color: '#000', font: tickFont, callback: (v: any) => String(v) },
            afterBuildTicks: (s: any) => {
              s.ticks = priceTicks.map((v) => ({ value: v }));
            },
            afterFit: (s: any) => {
              s.width = AXIS_L - FRAME_L;
              noScalePadding(s);
            },
          },
          yR: {
            type: 'logarithmic',
            position: 'right',
            min: 60.91,
            max: 7972.8,
            grid: { display: false, drawTicks: false },
            border: { display: false },
            ticks: { autoSkip: false, crossAlign: 'far', color: '#000', font: tickFont, callback: (v: any) => String(v) },
            afterBuildTicks: (s: any) => {
              s.ticks = priceTicks.map((v) => ({ value: v }));
            },
            afterFit: (s: any) => {
              s.width = CANVAS_W - 23 - (AXIS_R - FRAME_L);
              noScalePadding(s);
            },
          },
        },
      } as any,
      plugins: [spacedText, makeTickMarks(priceTicks, true)],
    });
    return () => chart.destroy();
  }, []);
  return (
    <canvas
      ref={ref}
      width={CANVAS_W}
      height={BAND_BOTTOM - TITLE_SEP}
      style={{ position: 'absolute', left: FRAME_L, top: TITLE_SEP, width: CANVAS_W, height: BAND_BOTTOM - TITLE_SEP }}
    />
  );
}

function TrendChart() {
  const ref = useRef<HTMLCanvasElement | null>(null);
  useEffect(() => {
    if (!ref.current) return;
    const clipSets = clipLevels.map((lvl) => ({
      data: [
        { x: DATA_START, y: lvl },
        { x: DATA_END, y: lvl },
      ],
      borderColor: '#2f9a2f',
      borderWidth: lvl === 35 ? 2 : 1.5,
      borderDash: [12, 7],
      pointRadius: 0,
    }));
    const chart = new Chart(ref.current, {
      type: 'line',
      data: {
        datasets: [
          {
            data: trendPoints.map(([x, y]) => ({ x, y })),
            borderColor: '#ff0000',
            borderWidth: 1.4,
            pointRadius: 0,
            stepped: true,
          },
          ...clipSets,
        ],
      },
      options: {
        animation: false,
        responsive: false,
        devicePixelRatio: 1,
        events: [],
        layout: { padding: { left: 0, right: 29, top: 0, bottom: 0 }, autoPadding: false },
        plugins: { legend: { display: false }, tooltip: { enabled: false } },
        scales: {
          x: { type: 'linear', min: X_MIN, max: X_MAX, display: false },
          y: {
            type: 'linear',
            position: 'left',
            min: -6.95,
            max: 106.95,
            grid: { display: false, drawTicks: false },
            border: { display: false },
            ticks: { autoSkip: false, padding: 30, color: '#000', font: tickFont },
            afterBuildTicks: (s: any) => {
              s.ticks = pctTicks.map((v) => ({ value: v }));
            },
            afterFit: (s: any) => {
              s.width = AXIS_L - FRAME_L;
              noScalePadding(s);
            },
          },
          yR: {
            type: 'linear',
            position: 'right',
            min: -6.95,
            max: 106.95,
            grid: { display: false, drawTicks: false },
            border: { display: false },
            ticks: { autoSkip: false, crossAlign: 'far', color: '#000', font: tickFont },
            afterBuildTicks: (s: any) => {
              s.ticks = pctTicks.map((v) => ({ value: v }));
            },
            afterFit: (s: any) => {
              s.width = CANVAS_W - 29 - (AXIS_R - FRAME_L);
              noScalePadding(s);
            },
          },
        },
      } as any,
      plugins: [spacedText, makeTickMarks(pctTicks, false)],
    });
    return () => chart.destroy();
  }, []);
  return (
    <canvas
      ref={ref}
      width={CANVAS_W}
      height={LOW_BOTTOM - BAND_BOTTOM}
      style={{ position: 'absolute', left: FRAME_L, top: BAND_BOTTOM, width: CANVAS_W, height: LOW_BOTTOM - BAND_BOTTOM }}
    />
  );
}

type TxtProps = {
  x: number;
  y: number;
  size: number;
  serif?: boolean;
  italic?: boolean;
  align?: 'left' | 'center' | 'right';
  color?: string;
  spacing?: number;
  underline?: boolean;
  children: React.ReactNode;
};

// text placed by its baseline
const Txt = ({ x, y, size, serif, italic, align = 'left', color = '#000', spacing = 0, underline, children }: TxtProps) => {
  const asc = serif ? 0.8375 : 0.8465;
  const shift = align === 'left' ? '0' : align === 'center' ? '-50%' : '-100%';
  return (
    <div
      style={{
        position: 'absolute',
        left: x,
        top: y - asc * size,
        fontFamily: serif ? SERIF : SANS,
        fontSize: size,
        lineHeight: `${size}px`,
        fontStyle: italic ? 'italic' : 'normal',
        color,
        letterSpacing: spacing,
        whiteSpace: 'pre',
        transform: `translateX(${shift})`,
        textDecoration: underline ? 'underline' : 'none',
      }}
    >
      {children}
    </div>
  );
};

const Rule = ({ x, y, w, h, color = '#000' }: { x: number; y: number; w: number; h: number; color?: string }) => (
  <div style={{ position: 'absolute', left: x, top: y, width: w, height: h, background: color }} />
);

const T = { left: 288, right: 741, top: 237, bottom: 496, head: 303, c1: 554, c2: 641 };
const rowLines = [362, 395, 427.5, 460];
const rowBase = [386, 418.5, 451, 483];

function GainTable() {
  const lw = 1.5;
  return (
    <>
      <Rule x={T.left} y={rowLines[0]} w={T.right - T.left} h={rowLines[1] - rowLines[0]} color="#d6d6d6" />
      <div
        style={{
          position: 'absolute',
          left: T.left,
          top: T.top,
          width: T.right - T.left,
          height: T.bottom - T.top,
          border: `${lw}px solid #000`,
          boxSizing: 'border-box',
        }}
      />
      <Rule x={T.left} y={T.head - lw / 2} w={T.right - T.left} h={lw} />
      {rowLines.map((y) => (
        <Rule key={y} x={T.left} y={y - lw / 2} w={T.right - T.left} h={lw} />
      ))}
      <Rule x={T.c1 - lw / 2} y={T.head} w={lw} h={T.bottom - T.head} />
      <Rule x={T.c2 - lw / 2} y={T.head} w={lw} h={T.bottom - T.head} />
      <Txt x={(T.left + T.right) / 2} y={268} size={19} align="center">S&amp;P 500</Txt>
      <Txt x={(T.left + T.right) / 2} y={290} size={19} align="center">Gain/Annum When:</Txt>
      <Txt x={311} y={356} size={19}>In Bottom Clip is</Txt>
      <Txt x={594} y={334} size={19} align="center">Gain/</Txt>
      <Txt x={594} y={356} size={19} align="center">Annum</Txt>
      <Txt x={689} y={334} size={19} align="center">%</Txt>
      <Txt x={689} y={356} size={19} align="center">of Time</Txt>
      {tableRows.map((r, i) => (
        <React.Fragment key={r.label}>
          {r.star && <Txt x={311} y={rowBase[i]} size={19}>*</Txt>}
          <Txt x={325} y={rowBase[i]} size={19}>{r.label}</Txt>
          <Txt x={622} y={rowBase[i]} size={19} align="right">{r.gain}</Txt>
          <Txt x={713} y={rowBase[i]} size={19} align="right">{r.time}</Txt>
        </React.Fragment>
      ))}
    </>
  );
}

const App: React.FC = () => {
  const lw = 2;
  return (
    <div style={{ position: 'absolute', left: 0, top: 0, width: 2200, height: 1700, background: '#fff', overflow: 'hidden' }}>
      <PriceChart />
      <TrendChart />

      {/* frame and panel separators */}
      <div
        style={{
          position: 'absolute',
          left: FRAME_L - 1,
          top: FRAME_T - 1,
          width: FRAME_R - FRAME_L + 2,
          height: FRAME_B - FRAME_T + 2,
          border: `${lw}px solid #000`,
          boxSizing: 'border-box',
        }}
      />
      {[TITLE_SEP, TOP_BOTTOM, BAND_BOTTOM, LOW_BOTTOM].map((y) => (
        <Rule key={y} x={FRAME_L} y={y - 1} w={FRAME_R - FRAME_L} h={lw} />
      ))}
      <Rule x={AXIS_L - 1} y={TITLE_SEP} w={lw} h={TOP_BOTTOM - TITLE_SEP} />
      <Rule x={AXIS_R - 1} y={TITLE_SEP} w={lw} h={TOP_BOTTOM - TITLE_SEP} />
      <Rule x={AXIS_L - 1} y={BAND_BOTTOM} w={lw} h={LOW_BOTTOM - BAND_BOTTOM} />
      <Rule x={AXIS_R - 1} y={BAND_BOTTOM} w={lw} h={LOW_BOTTOM - BAND_BOTTOM} />

      {/* titles */}
      <Txt x={250} y={217} size={36.3}>Standard &amp; Poor's 500 Index</Txt>
      <Txt x={1977} y={186} size={25} serif italic spacing={1.7} align="right">
        Weekly 7/30/1965 - 7/31/2026 (Log Scale)
      </Txt>

      <GainTable />

      <Txt x={1373} y={535} size={19} align="center" underline>Model's Component Indices:</Txt>
      {componentIndices.map((name, i) => (
        <Txt key={name} x={1373} y={557 + i * 22} size={19} align="center">{name}</Txt>
      ))}
      <Txt x={1944} y={835} size={23} italic align="right">Source: S&amp;P Dow Jones Indices</Txt>

      <Txt x={1923} y={958} size={25.5} align="right" color="#ff0000">7/31/2026 = 100.0%</Txt>
      <Txt x={1946} y={1541} size={23.2} italic align="right">Source: Ned Davis Research, Inc.</Txt>

      <Txt x={123} y={1593} size={21} serif spacing={2} color="#2b2bee" underline>(S99A)</Txt>
      <Txt x={252} y={1595} size={36.6}>12-Indicator Simple Trend Model (Mode Basis)</Txt>

      <Txt x={2079} y={1631} size={22.3} align="right">
        © Copyright 2026 Ned Davis Research, Inc.  Further distribution prohibited without prior permission.  All Rights Reserved.
      </Txt>
      <Txt x={2079} y={1656} size={22.3} align="right">
        See NDR Disclaimer at <span style={{ color: '#0000ee', textDecoration: 'underline' }}>www.ndr.com/copyright.html</span>. For data vendor disclaimers refer to{' '}
        <span style={{ color: '#0000ee', textDecoration: 'underline' }}>www.ndr.com/vendorinfo/</span>.
      </Txt>
    </div>
  );
};

export default App;
